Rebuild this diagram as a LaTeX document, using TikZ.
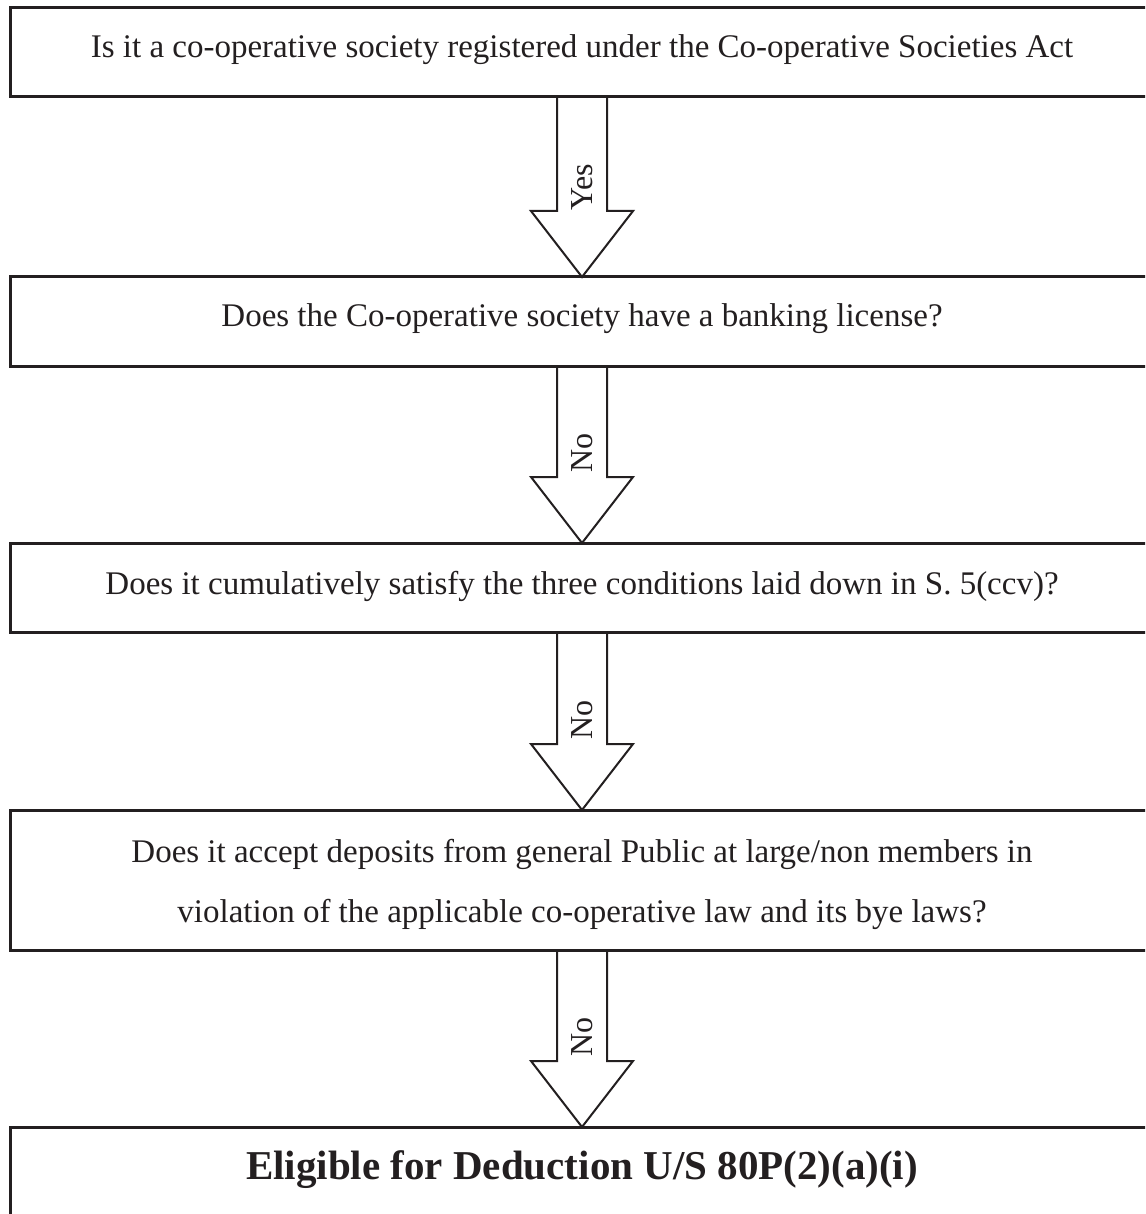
\documentclass[tikz,border=0pt]{standalone}
\usepackage{fontspec}
\setmainfont{Liberation Serif}
\usetikzlibrary{calc}
\definecolor{ink}{HTML}{231F20}
\tikzset{
  box/.style={draw=ink, line width=3pt, minimum width=1144pt, inner sep=0pt, outer sep=0pt, rectangle},
  txt/.style={text=ink, font=\fontsize{33}{60}\selectfont, align=center, inner sep=0pt},
  bigtxt/.style={text=ink, font=\fontsize{41}{48}\selectfont\bfseries, inner sep=0pt},
  arr/.style={draw=ink, line width=2pt, line join=miter},
  lbl/.style={text=ink, font=\fontsize{32}{36}\selectfont, rotate=90, inner sep=0pt}
}
\begin{document}
\begin{tikzpicture}[x=1pt,y=-1pt]
\useasboundingbox (0,0) rectangle (1145,1214);
\clip (0,0) rectangle (1145,1214);
\fill[white] (0,0) rectangle (1145,1214);
% boxes
\node[box, minimum height=89pt] (b1) at (582,52.5) {};
\node[box, minimum height=89pt] (b2) at (582,321.5) {};
\node[box, minimum height=89pt] (b3) at (582,587.5) {};
\node[box, minimum height=140pt] (b4) at (582,880) {};
\node[box, minimum height=120pt] (b5) at (582,1187) {};
% texts
\node[txt] (t1) at (582,50) {Is it a co-operative society registered under the Co-operative Societies Act};
\node[txt] (t2) at (582,319) {Does the Co-operative society have a banking license?};
\node[txt] (t3) at (582,586) {Does it cumulatively satisfy the three conditions laid down in S. 5(ccv)?};
\node[txt] (t4) at (582,884) {Does it accept deposits from general Public at large/non members in\\violation of the applicable co-operative law and its bye laws?};
\node[bigtxt] (t5) at (582,1170) {Eligible for Deduction U/S 80P(2)(a)(i)};
% arrows
\foreach \a/\b/\l in {b1/b2/Yes, b2/b3/No, b3/b4/No, b4/b5/No}{
  \draw[arr] ($(\a.south)+(-25,0)$) -- ($(\b.north)+(-25,-66)$) -- ($(\b.north)+(-51,-66)$)
    -- (\b.north) -- ($(\b.north)+(51,-66)$) -- ($(\b.north)+(25,-66)$) -- ($(\a.south)+(25,0)$);
  \node[lbl] (l\a) at ($(\b.north)+(0,-90)$) {\l};
}
\end{tikzpicture}
\end{document}
